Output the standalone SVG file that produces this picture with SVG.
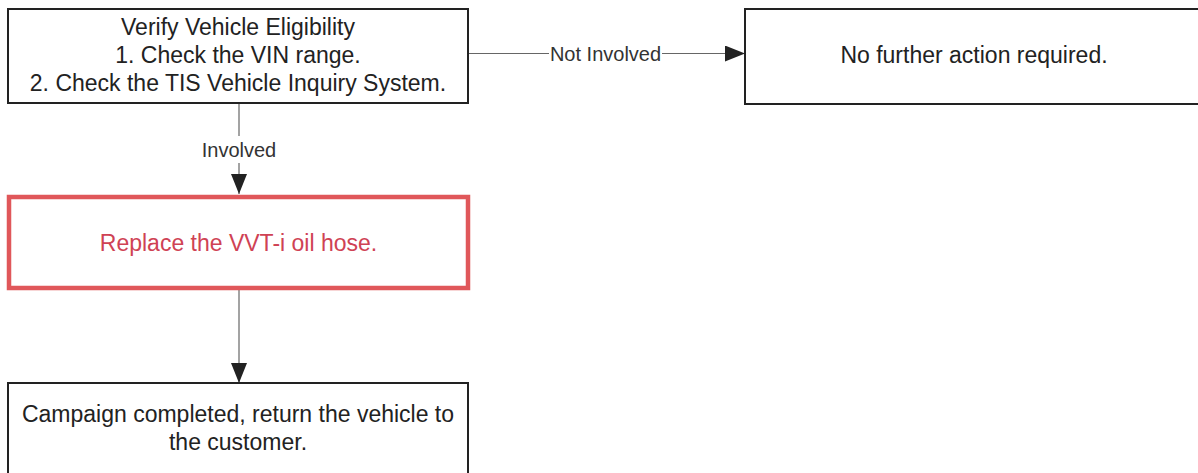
<svg xmlns="http://www.w3.org/2000/svg" width="1198" height="473" viewBox="0 0 1198 473">
<style>
.box{fill:#fff;stroke:#222;stroke-width:2}
.red{fill:#fff;stroke:#e0575a;stroke-width:4.5}
.t{font-family:"Liberation Sans",Arial,sans-serif;font-size:23px;fill:#222;text-anchor:middle}
.rt{font-family:"Liberation Sans",Arial,sans-serif;font-size:23px;fill:#cf4254;text-anchor:middle}
.lbl{font-family:"Liberation Sans",Arial,sans-serif;font-size:20px;fill:#333;text-anchor:middle}
.ln{fill:none;stroke:#666;stroke-width:1.2}
</style>
<defs>
<marker id="ah" viewBox="0 0 20 16" refX="20" refY="8" markerWidth="20" markerHeight="16" markerUnits="userSpaceOnUse" orient="auto">
<path d="M0,0 L20,8 L0,16 Z" fill="#222"/>
</marker>
</defs>
<rect width="1198" height="473" fill="#fff"/>
<g id="connectors">
<line class="ln" x1="468" y1="53.5" x2="549" y2="53.5"/>
<line class="ln" x1="662" y1="53.5" x2="745" y2="53.5" marker-end="url(#ah)"/>
<text class="lbl" x="605.5" y="61">Not Involved</text>
<line class="ln" x1="239" y1="103" x2="239" y2="136"/>
<line class="ln" x1="239" y1="163" x2="239" y2="194" marker-end="url(#ah)"/>
<text class="lbl" x="239" y="157">Involved</text>
<line class="ln" x1="239" y1="289" x2="239" y2="383" marker-end="url(#ah)"/>
</g>
<g id="verify">
<rect class="box" x="8" y="9" width="460" height="94"/>
<text class="t" x="238" y="35">Verify Vehicle Eligibility</text>
<text class="t" x="238" y="63">1. Check the VIN range.</text>
<text class="t" x="238" y="91">2. Check the TIS Vehicle Inquiry System.</text>
</g>
<g id="no-action">
<rect class="box" x="745" y="9" width="460" height="95"/>
<text class="t" x="974" y="63">No further action required.</text>
</g>
<g id="replace">
<rect class="red" x="9" y="197" width="459" height="91"/>
<text class="rt" x="238.5" y="251">Replace the VVT-i oil hose.</text>
</g>
<g id="complete">
<rect class="box" x="8" y="383" width="460" height="100"/>
<text class="t" x="238" y="422">Campaign completed, return the vehicle to</text>
<text class="t" x="238" y="450">the customer.</text>
</g>
</svg>
